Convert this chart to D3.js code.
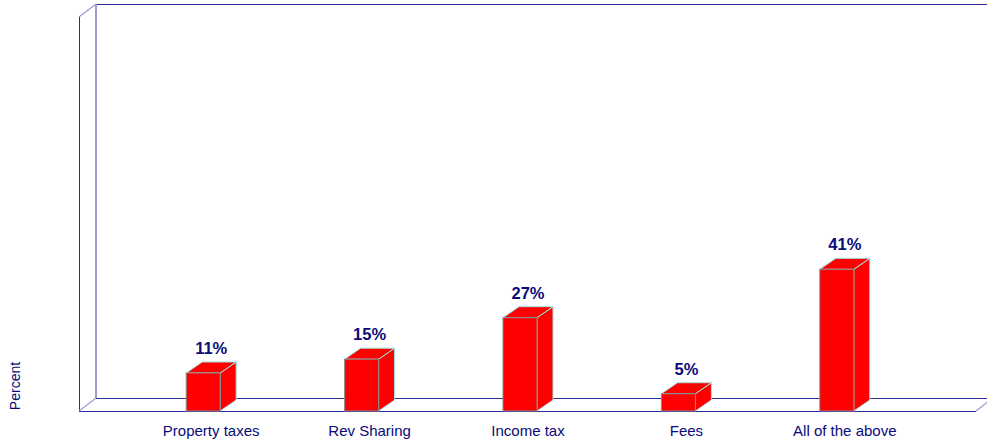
<!DOCTYPE html>
<html>
<head>
<meta charset="utf-8">
<script src="https://cdn.jsdelivr.net/npm/d3@7"></script>
<style>
  html, body { margin: 0; padding: 0; background: #ffffff; }
  svg { display: block; font-family: Arial, "Liberation Sans", sans-serif; }
</style>
</head>
<body>
<svg id="chart" width="987" height="443"></svg>
<script>
// Revenue source preferences (percent of respondents)
const categories = ["Property taxes", "Rev Sharing", "Income tax", "Fees", "All of the above"];
const values = [11, 15, 27, 5, 41];
const valueLabels = ["11%", "15%", "27%", "5%", "41%"];
const axisTitle = "Percent";

(function () {
  const svg = d3.select("#chart");
  const W = 987;

  // Plot frame (front plane) and 3D depth offsets
  const frameLeft = 79, frameRight = 976, frameTop = 17, floorY = 411;
  const wallDx = 17, wallDy = -13;   // depth of walls / floor
  const barDx = 16, barDy = -11;     // depth of each bar
  const barWidth = 34;

  const x = d3.scaleBand()
    .domain(categories)
    .range([124, 916])
    .paddingInner(1 - barWidth / 158.4)
    .paddingOuter((1 - barWidth / 158.4) / 2);

  const y = d3.scaleLinear().domain([0, 114]).range([floorY, frameTop]);

  const wallColor = "#2b2b9c";
  const wallLight = "#9c9cd0";
  const textColor = "#0a0a7a";

  // Back wall and floor outline
  const g = svg.append("g");
  const line = (x1, y1, x2, y2, c, w, crisp) => g.append("line")
    .attr("x1", x1).attr("y1", y1).attr("x2", x2).attr("y2", y2)
    .attr("stroke", c).attr("stroke-width", w)
    .attr("shape-rendering", crisp ? "crispEdges" : "auto");

  line(frameLeft + wallDx, frameTop + wallDy, W, frameTop + wallDy, wallColor, 1, true);
  line(frameLeft + wallDx, frameTop + wallDy, frameLeft + wallDx, floorY + wallDy, wallLight, 2, true);
  line(frameLeft, frameTop, frameLeft + wallDx, frameTop + wallDy, wallLight, 1.2, false);
  line(frameLeft, frameTop, frameLeft, floorY, wallColor, 1, true);
  line(frameLeft + wallDx, floorY + wallDy, W, floorY + wallDy, wallColor, 1, true);
  line(frameLeft, floorY, frameLeft + wallDx, floorY + wallDy, wallLight, 1.2, false);
  line(frameLeft, floorY, frameRight, floorY, wallColor, 1, true);
  line(frameRight, floorY, frameRight + wallDx, floorY + wallDy, wallLight, 1.2, false);

  // 3D bars
  const bars = svg.append("g").selectAll("g.bar")
    .data(categories.map((c, i) => ({ c, v: values[i], label: valueLabels[i] })))
    .join("g").attr("class", "bar");

  bars.append("path") // side face
    .attr("d", d => {
      const x1 = x(d.c) + barWidth, yt = y(d.v), yb = y(0);
      return `M${x1},${yb}L${x1 + barDx},${yb + barDy}L${x1 + barDx},${yt + barDy}L${x1},${yt}Z`;
    })
    .attr("fill", "#ff0000").attr("stroke", "#9fe8e8").attr("stroke-width", 1);

  bars.append("path") // top face
    .attr("d", d => {
      const x0 = x(d.c), x1 = x0 + barWidth, yt = y(d.v);
      return `M${x0},${yt}L${x0 + barDx},${yt + barDy}L${x1 + barDx},${yt + barDy}L${x1},${yt}Z`;
    })
    .attr("fill", "#ff0000").attr("stroke", "#9fe8e8").attr("stroke-width", 1);

  bars.append("rect") // front face
    .attr("x", d => x(d.c))
    .attr("y", d => y(d.v))
    .attr("width", barWidth)
    .attr("height", d => y(0) - y(d.v))
    .attr("fill", "#ff0000").attr("stroke", "#8a8a8a").attr("stroke-width", 1);

  bars.append("text") // value labels
    .attr("x", d => x(d.c) + (barWidth + barDx) / 2)
    .attr("y", d => y(d.v) + barDy - 8)
    .attr("text-anchor", "middle")
    .attr("font-size", 16.5).attr("font-weight", "bold")
    .attr("fill", textColor)
    .text(d => d.label);

  // Category axis labels
  svg.append("g").selectAll("text")
    .data(categories)
    .join("text")
    .attr("x", d => x(d) + (barWidth + barDx) / 2)
    .attr("y", 436)
    .attr("text-anchor", "middle")
    .attr("font-size", 15)
    .attr("fill", textColor)
    .text(d => d);

  // Value axis title
  svg.append("text")
    .attr("transform", "translate(20,386) rotate(-90)")
    .attr("text-anchor", "middle")
    .attr("font-size", 14)
    .attr("fill", textColor)
    .text(axisTitle);
})();
</script>
</body>
</html>
